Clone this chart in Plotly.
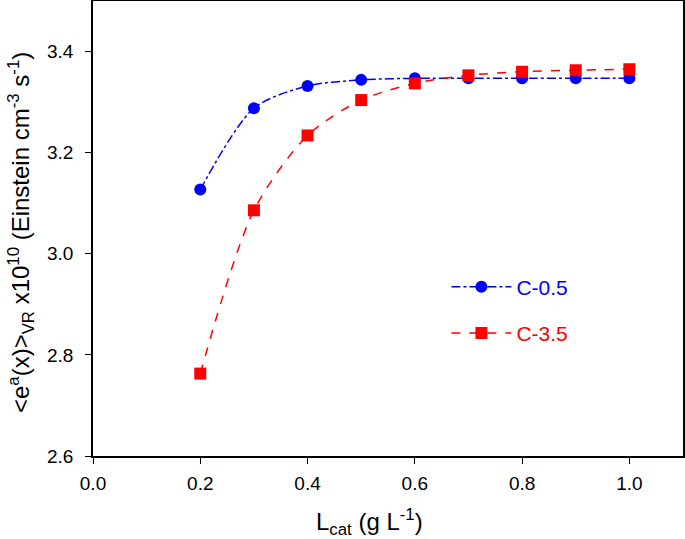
import plotly.graph_objects as go

x_vals = [0.2, 0.3, 0.4, 0.5, 0.6, 0.7, 0.8, 0.9, 1.0]
c05 = [3.127, 3.288, 3.332, 3.344, 3.347, 3.347, 3.347, 3.347, 3.347]
c35 = [2.763, 3.086, 3.234, 3.304, 3.337, 3.353, 3.360, 3.363, 3.365]
x_ticks = [0.0, 0.2, 0.4, 0.6, 0.8, 1.0]
y_ticks = [2.6, 2.8, 3.0, 3.2, 3.4]

font = "Liberation Sans, Arial, sans-serif"

fig = go.Figure()
fig.add_trace(go.Scatter(
    x=x_vals, y=c05, mode="lines+markers", name='<span style="color:#0000ff">C-0.5</span>',
    line=dict(color="#0000ff", width=1.5, dash="dashdot", shape="spline", smoothing=0.8),
    marker=dict(symbol="circle", size=12, color="#0000ff"),
    legendgroup="a",
))
fig.add_trace(go.Scatter(
    x=x_vals, y=c35, mode="lines+markers", name='<span style="color:#ff0000">C-3.5</span>',
    line=dict(color="#ff0000", width=1.5, dash="dash", shape="spline", smoothing=0.8),
    marker=dict(symbol="square", size=12, color="#ff0000"),
    legendgroup="b",
))

fig.update_layout(
    width=685, height=539,
    margin=dict(l=93, r=2, t=1, b=83, autoexpand=False),
    paper_bgcolor="white", plot_bgcolor="white",
    font=dict(family=font, size=18, color="black"),
    showlegend=True,
    legend=dict(
        x=0.599, y=0.4165, xanchor="left", yanchor="top",
        font=dict(size=21), itemwidth=60, tracegroupgap=16,
        traceorder="grouped", bgcolor="rgba(0,0,0,0)",
    ),
    xaxis=dict(
        range=[0, 1.1], tickvals=x_ticks, ticktext=[f"{v:.1f}" for v in x_ticks],
        showgrid=False, zeroline=False, showline=True, linecolor="black", linewidth=1.5,
        mirror=True, ticks="outside", ticklen=6, tickwidth=1.2, tickcolor="black",
        tickfont=dict(size=19), ticklabelstandoff=3,
        automargin=False,
    ),
    yaxis=dict(
        range=[2.6, 3.5], tickvals=y_ticks, ticktext=[f"{v:.1f}" for v in y_ticks],
        showgrid=False, zeroline=False, showline=True, linecolor="black", linewidth=1.5,
        mirror=True, ticks="outside", ticklen=6, tickwidth=1.2, tickcolor="black",
        tickfont=dict(size=19), ticklabelstandoff=8,
        automargin=False,
    ),
    annotations=[
        dict(text="L<sub>cat</sub> (g L<sup>-1</sup>)", xref="paper", yref="paper",
             x=0.469, y=-0.145, xanchor="center", yanchor="middle", showarrow=False,
             font=dict(size=24)),
        dict(text="&lt;e<sup>a</sup>(x)&gt;<sub>VR</sub> x10<sup>10</sup> (Einstein cm<sup>-3</sup> s<sup>-1</sup>)",
             xref="paper", yref="paper", x=-0.122, y=0.49, xanchor="center", yanchor="middle",
             textangle=-90, showarrow=False, font=dict(size=24)),
    ],
)

fig.write_html("out.html", config={"displayModeBar": False},
               post_script="document.body.style.margin='0';document.body.style.overflow='hidden';")
